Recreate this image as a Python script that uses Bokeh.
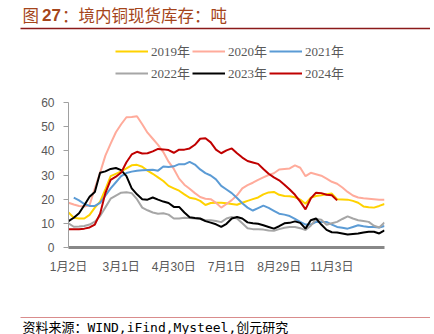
from bokeh.plotting import figure
from bokeh.models import Range1d, Legend, LegendItem, Label, FixedTicker
from bokeh.layouts import column
from bokeh.embed import file_html
from bokeh.resources import INLINE

nan = float("nan")

# x index (evenly spaced category positions); one tick label every 50 steps
x = list(range(0, 301, 5))
tick_pos = [0, 50, 100, 150, 200, 250]
tick_labels = ["1月2日", "3月1日", "4月30日", "7月1日", "8月29日", "11月3日"]

y2019 = [14.5, 12.3, 12, 12, 13.5, 16.5, 19, 24, 29.5, 30.5, 31.5, 32.7, 34, 34.2, 33.4, 31.8,
         30.5, 29, 27.5, 25.5, 24.5, 23.5, 22, 20.6, 20.2, 19.3, 17.6, 18.4, 18.5, 18.5, 18.3,
         18, 17.7, 18.5, 19.3, 20, 20.7, 22, 22.8, 23, 21.8, 21.3, 21.2, 20.8, 19.8, 18.1,
         20.6, 21.3, 21.6, 22, 22.3, 20, 19.9, 19.8, 19.3, 18.5, 17, 16.7, 16.5, 17.2, 18]
y2020 = [18.5, 17.8, 17.2, 17, 17.5, 24.5, 31, 38, 43, 47.7, 51, 53.9, 54, 54.3, 51, 47.5,
         45, 42.5, 39.5, 35.5, 32.5, 28.5, 26, 24.3, 22.5, 20.9, 20.2, 20, 18.5, 16.5, 18,
         19.6, 21.6, 24.5, 25.8, 26.8, 28, 29, 30, 30.7, 32.3, 32.5, 32.7, 34, 33, 29.5,
         30.9, 30.3, 29.7, 28.5, 27.2, 26.4, 24.8, 23, 21.5, 20.7, 20.4, 20.2, 20, 19.8, 19.8]
y2021 = [nan, 20.6, 19.5, 18, 17.2, 17.2, 18.5, 21.5, 24.5, 27, 29.5, 30.8, 31.4, 31.8, 32, 32.1,
         32.2, 31.8, 33.5, 33.3, 33.6, 34.5, 34.4, 35.4, 34.3, 32.3, 30.8, 29.8, 28.2, 25.5, 24,
         22.5, 20.5, 18.3, 16.5, 15.3, 16.3, 17.3, 16.4, 15.2, 14, 13.6, 13, 11.8, 10.6, 9.5,
         9.5, 10.6, 10.6, 10.6, 9.5, 8.5, 8.2, 7.8, 8.5, 9.2, 8.8, 8.5, 8.5, 8.3, 8.9]
y2022 = [10, 8.6, 8.7, 8.9, 9.5, 10.7, 13, 16.6, 20.2, 21.5, 22.7, 22.9, 22.5, 20, 16.5, 15.4,
         14.5, 14, 14.2, 13.6, 12, 12, 12.3, 12.2, 12, 11.8, 11.3, 11.3, 11, 10.5, 12,
         12.6, 12, 10, 8, 7.6, 7.6, 7.4, 7, 6.9, 7.6, 8.2, 8.5, 8.5, 8, 7.2,
         9, 11.8, 11.5, 9.4, 10, 10.6, 11.8, 12.9, 12, 11.3, 11, 10.6, 9, 8.3, 10.3]
y2023 = [10.9, 12.3, 14.2, 17.5, 21, 23, 30.9, 31.5, 32.5, 32.9, 32, 29.5, 24.5, 22, 20, 19.8,
         20.7, 19.8, 19, 18.4, 16.8, 16.8, 14.5, 12.5, 12.2, 12, 10.9, 10.3, 9.6, 8.5, 9.8,
         12, 12.6, 12, 10.4, 10, 9.8, 9.2, 8.5, 7.8, 8.8, 10, 10.2, 10.8, 10.2, 7.8,
         11.3, 12, 9.5, 7.3, 6.3, 6.2, 5.8, 5.4, 5.6, 5.8, 6.2, 6.5, 6.5, 5.8, 7.1]
y2024 = [7.6, 7.6, 7.6, 7.8, 8.3, 9.5, 14, 22.5, 28, 29.3, 31, 35.3, 38.5, 39.6, 38.9, 39,
         39.8, 40.8, 40.6, 40.3, 39.2, 40.5, 40.5, 41, 42.5, 45, 45.2, 43.5, 40.5, 39, 40.2,
         41, 39, 37.2, 35.8, 35.2, 34.6, 32.5, 30.5, 29, 27.8, 26, 24, 21.8, 19, 15.8,
         20.3, 22.7, 22.5, 21.8, 21.6, 19.5]

series_names = ["2019年", "2020年", "2021年", "2022年", "2023年", "2024年"]
series_values = [y2019, y2020, y2021, y2022, y2023, y2024]
series_colors = ["#FFD200", "#FFAB9B", "#5B9BD5", "#A6A6A6", "#000000", "#C00000"]

W = 434
HEAD_H, MAIN_H, FOOT_H = 90, 210, 34
FL, FR = 68, 384           # frame left/right in page px
FT, FB = 102, 247          # frame top/bottom in page px


def blank_fig(h):
    f = figure(width=W, height=h, output_backend="svg", toolbar_location=None,
               x_range=Range1d(0, W), y_range=Range1d(0, h),
               x_axis_type=None, y_axis_type=None,
               min_border=0, min_border_left=0, min_border_right=0,
               min_border_top=0, min_border_bottom=0, frame_align=False)
    f.outline_line_color = None
    f.background_fill_color = "white"
    f.border_fill_color = "white"
    return f


def rule(fig, y_center, color, width):
    # thin horizontal rule from x=20 to the right edge, drawn as a legend glyph
    r = fig.line(x=[nan], y=[nan], line_color=color, line_width=width)
    lg = Legend(items=[LegendItem(label=" ", renderers=[r])],
                location=(20, y_center - 10), glyph_width=W - 24, glyph_height=20,
                label_height=20, label_standoff=0, label_width=1, spacing=0,
                padding=0, margin=0, border_line_color=None, background_fill_alpha=0,
                label_text_font_size="1px")
    fig.add_layout(lg, "center")


# ---------------- header: title + legend ----------------
head = blank_fig(HEAD_H)
hy = lambda cy: HEAD_H - cy   # page-y (from top) -> header data y
title_col = "#A5451B"
head.add_layout(Label(x=22, y=hy(14.5), text="图", text_font="Noto Sans CJK SC",
                      text_font_size="16.5px", text_color=title_col, text_baseline="middle"))
head.add_layout(Label(x=41.5, y=hy(14.5), text="27", text_font="Liberation Sans",
                      text_font_size="17px", text_font_style="bold",
                      text_color=title_col, text_baseline="middle"))
head.add_layout(Label(x=61.5, y=hy(14.5), text="：境内铜现货库存：吨", text_font="Noto Sans CJK SC",
                      text_font_size="16.5px", text_color=title_col, text_baseline="middle"))
rule(head, hy(28), "#8B1A1A", 1.5)

items = []
for name, col in zip(series_names, series_colors):
    r = head.line(x=[nan], y=[nan], line_color=col, line_width=2)
    items.append(LegendItem(label=name, renderers=[r]))
legend = Legend(items=items, location=(115, HEAD_H - 82.5), orientation="horizontal", ncols=3,
                glyph_width=33, glyph_height=20, label_height=20, label_standoff=3,
                spacing=2, padding=0, margin=0,
                border_line_color=None, background_fill_alpha=0,
                label_text_font="Liberation Serif, Noto Sans CJK SC",
                label_text_font_size="13px", label_text_color="#595959")
head.add_layout(legend, "center")

# ---------------- main chart ----------------
p = figure(width=W, height=MAIN_H, output_backend="svg", toolbar_location=None,
           x_range=Range1d(0, 300), y_range=Range1d(0, 60),
           min_border_left=FL, min_border_right=W - FR,
           min_border_top=FT - HEAD_H, min_border_bottom=HEAD_H + MAIN_H - FB,
           frame_align=False)
p.outline_line_color = None
p.xgrid.visible = False
p.ygrid.visible = False
p.background_fill_color = "white"
p.border_fill_color = "white"

ya = p.yaxis[0]
ya.ticker = FixedTicker(ticks=[0, 10, 20, 30, 40, 50, 60])
ya.axis_line_color = "#A0A0A0"
ya.major_tick_line_color = "#A0A0A0"
ya.major_tick_out = 5
ya.major_tick_in = 0
ya.minor_tick_line_color = None
ya.major_label_standoff = 9
ya.major_label_text_font = "Liberation Sans"
ya.major_label_text_font_size = "12px"
ya.major_label_text_color = "#595959"

xa = p.xaxis[0]
xa.ticker = FixedTicker(ticks=tick_pos)
xa.major_label_overrides = {t: l for t, l in zip(tick_pos, tick_labels)}
xa.axis_line_color = "#888888"
xa.axis_line_width = 3
xa.major_tick_line_color = None
xa.minor_tick_line_color = None
xa.major_tick_out = 0
xa.major_label_standoff = 12
xa.major_label_text_font = "Liberation Sans, Noto Sans CJK SC"
xa.major_label_text_font_size = "12px"
xa.major_label_text_color = "#595959"

for ys, col in zip(series_values, series_colors):
    p.line(x[:len(ys)], ys, line_color=col, line_width=2)

# ---------------- footer ----------------
foot = blank_fig(FOOT_H)
fy = lambda cy: FOOT_H - cy
rule(foot, fy(16.8), "#D98C8C", 1)
foot.add_layout(Label(x=22, y=fy(27), text="资料来源：WIND,iFind,Mysteel,创元研究",
                      text_font="DejaVu Sans Mono, Noto Sans CJK SC", text_font_size="13px",
                      text_color="#000000", text_baseline="middle"))

layout = column(head, p, foot, spacing=0)
open("out.html", "w").write(file_html(layout, INLINE))
